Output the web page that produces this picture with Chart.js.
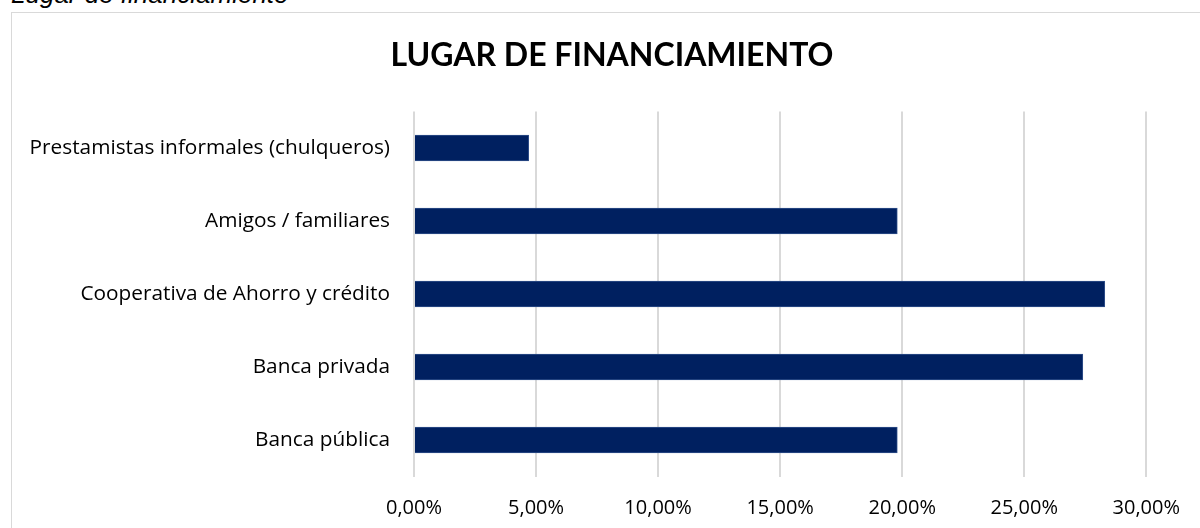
<!DOCTYPE html>
<html>
<head>
<meta charset="utf-8">
<script src="https://cdn.jsdelivr.net/npm/chart.js@4.4.1/dist/chart.umd.min.js"></script>
<style>
  html, body { margin: 0; padding: 0; background: #fff; overflow: hidden; }
  #caption {
    position: absolute; left: 11px; top: -19px;
    font: italic 26px "Liberation Sans", Arial, sans-serif;
    line-height: 26px; color: #000; white-space: nowrap;
  }
  #frame {
    position: absolute; left: 11px; top: 12px;
    width: 1300px; height: 600px;
    border: 1px solid #d9d9d9;
  }
  #wrap { position: absolute; left: 0; top: 0; width: 1200px; height: 528px; }
</style>
</head>
<body>
<div id="caption">Lugar de financiamiento</div>
<div id="frame"></div>
<div id="wrap"><canvas id="myChart"></canvas></div>
<script>
/* global Chart */

const categories = [
  "Prestamistas informales (chulqueros)",
  "Amigos / familiares",
  "Cooperativa de Ahorro y crédito",
  "Banca privada",
  "Banca pública"
];
const percentages = [4.7, 19.8, 28.3, 27.4, 19.8];
const tickValues = [0, 5, 10, 15, 20, 25, 30];

const labelFont = { family: "'Open Sans', Lato, sans-serif", size: 20 };
const categoryFont = { family: "'Open Sans', Lato, sans-serif", size: 20.8 };

// title drawn centred on the outer chart box, not on the plot
const boxTitle = {
  id: 'boxTitle',
  afterDraw(chart) {
    const c = chart.ctx;
    c.save();
    c.font = "bold 32px Lato, 'Open Sans', sans-serif";
    c.fillStyle = '#000';
    c.textAlign = 'center';
    c.textBaseline = 'middle';
    c.fillText('LUGAR DE FINANCIAMIENTO', 612, 56);
    c.restore();
  }
};

function renderChart() {
  var ctx = document.getElementById('myChart');
  new Chart(ctx, {
    type: 'bar',
    data: {
      labels: categories,
      datasets: [{
        label: 'Lugar de financiamiento',
        data: percentages,
        backgroundColor: '#002060',
        borderColor: '#2f4f8a',
        borderWidth: 1,
        barThickness: 26
      }]
    },
    options: {
      indexAxis: 'y',
      responsive: true,
      maintainAspectRatio: false,
      animation: false,
      layout: { padding: { left: 0, right: 50, top: 111.5, bottom: 0 } },
      plugins: {
        legend: { display: false },
        tooltip: { enabled: false },
        title: { display: false }
      },
      scales: {
        x: {
          min: 0,
          max: 30,
          afterBuildTicks: (scale) => {
            scale.ticks = tickValues.map(v => ({ value: v }));
          },
          afterFit: (scale) => { scale.height = 51.5; },
          grid: { color: '#d9d9d9', lineWidth: 2, drawTicks: false },
          border: { display: false },
          ticks: {
            color: '#000',
            font: labelFont,
            padding: 20,
            callback: (v) => v.toFixed(2).replace('.', ',') + '%'
          }
        },
        y: {
          afterFit: (scale) => { scale.width = 414; },
          grid: { display: false, drawTicks: false },
          border: { display: false },
          ticks: {
            color: '#000',
            font: categoryFont,
            padding: 24
          }
        }
      }
    },
    plugins: [boxTitle]
  });
}

renderChart();
</script>
</body>
</html>
